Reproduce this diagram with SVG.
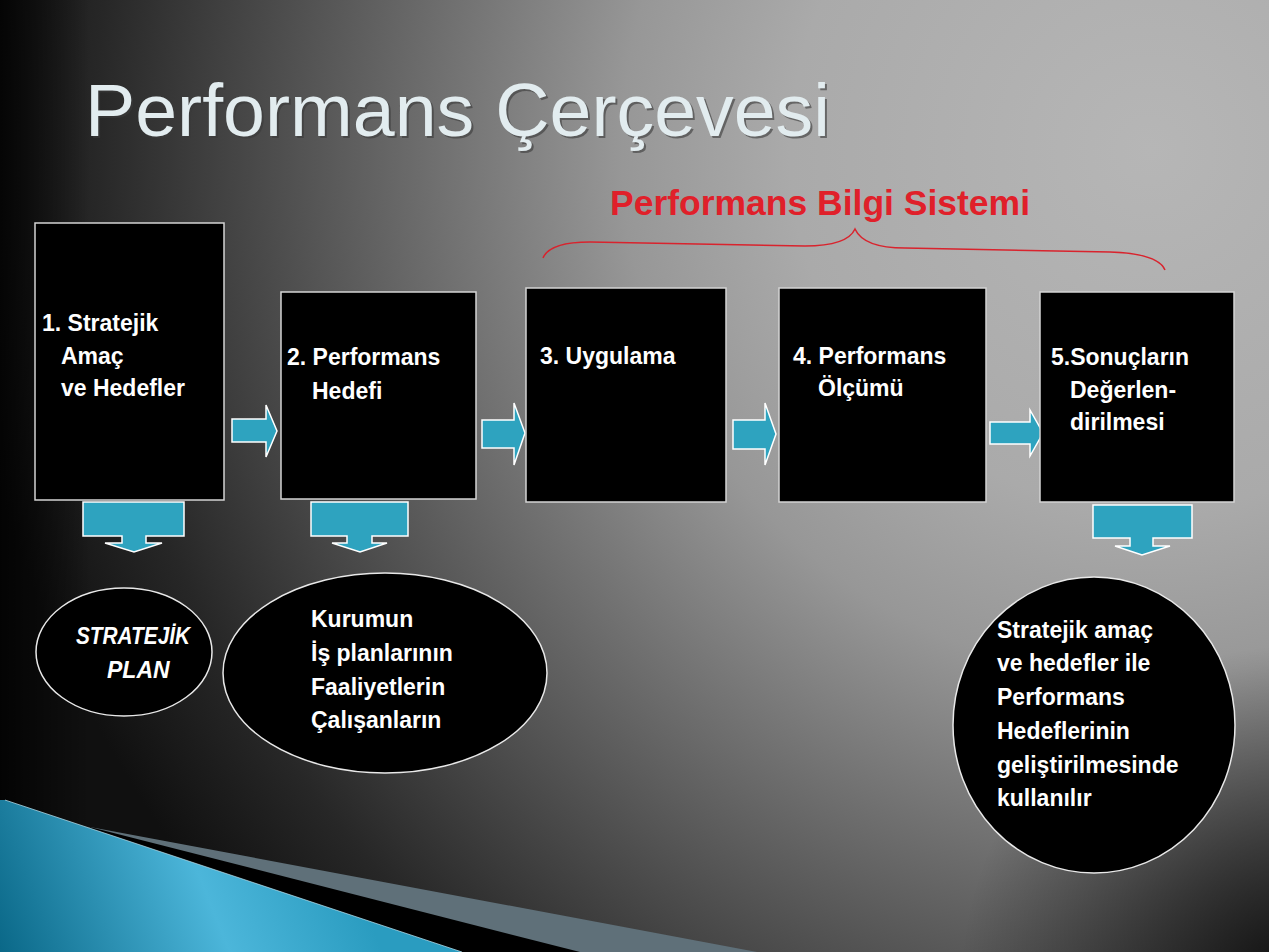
<svg xmlns="http://www.w3.org/2000/svg" width="1269" height="952" viewBox="0 0 1269 952">
<defs>
<radialGradient id="bg" gradientUnits="userSpaceOnUse" cx="1150" cy="150" r="1200">
<stop offset="0" stop-color="#b6b6b6"/>
<stop offset="0.3" stop-color="#aaaaaa"/>
<stop offset="0.44" stop-color="#979797"/>
<stop offset="0.7" stop-color="#555555"/>
<stop offset="0.88" stop-color="#272727"/>
<stop offset="1" stop-color="#101010"/>
</radialGradient>
<linearGradient id="lft" gradientUnits="userSpaceOnUse" x1="0" y1="0" x2="90" y2="0">
<stop offset="0" stop-color="#000" stop-opacity="0.8"/>
<stop offset="1" stop-color="#000" stop-opacity="0"/>
</linearGradient>
<radialGradient id="vig" gradientUnits="userSpaceOnUse" cx="1300" cy="985" r="340">
<stop offset="0" stop-color="#000" stop-opacity="0.85"/>
<stop offset="1" stop-color="#000" stop-opacity="0"/>
</radialGradient>
<linearGradient id="blue" gradientUnits="userSpaceOnUse" x1="0" y1="952" x2="330" y2="820">
<stop offset="0" stop-color="#0a6888"/>
<stop offset="0.6" stop-color="#4cb6da"/>
<stop offset="1" stop-color="#2a9cc0"/>
</linearGradient>
<style>
.box{fill:#000;stroke:#d4d4d4;stroke-width:1.5}
.ell{fill:#000;stroke:#e8e8e8;stroke-width:1.5}
.arr{fill:#2ea3bf;stroke:#ffffff;stroke-width:1.5;stroke-linejoin:miter}
.t{font-family:"Liberation Sans",Arial,sans-serif;font-weight:bold;font-size:23px;fill:#ffffff}
.ti{font-style:italic}
</style>
</defs>
<rect x="0" y="0" width="1269" height="952" fill="url(#bg)"/>
<rect x="0" y="0" width="90" height="952" fill="url(#lft)"/>
<rect x="0" y="0" width="1269" height="952" fill="url(#vig)"/>

<g id="decoration">
<path d="M90,827 L757,952 L0,952 Z" fill="#5f7079"/>
<path d="M90,827 L580,952 L0,952 Z" fill="#000"/>
<path d="M0,800 L5,800 L462,952 L0,952 Z" fill="url(#blue)"/>
<path d="M5,800 L462,952" stroke="#bfe6f2" stroke-width="1" fill="none" opacity="0.7"/>
</g>

<g id="title">
<text x="87" y="138" font-family="'Liberation Sans',Arial,sans-serif" font-size="75" fill="#3a3a3a" opacity="0.6" textLength="745" lengthAdjust="spacingAndGlyphs">Performans Çerçevesi</text>
<text x="85" y="136" font-family="'Liberation Sans',Arial,sans-serif" font-size="75" fill="#e2ecef" textLength="745" lengthAdjust="spacingAndGlyphs">Performans Çerçevesi</text>
</g>

<g id="pbs">
<text x="610" y="215" font-family="'Liberation Sans',Arial,sans-serif" font-weight="bold" font-size="35.5" fill="#e0202a" textLength="420" lengthAdjust="spacingAndGlyphs">Performans Bilgi Sistemi</text>
<path d="M543,258 C548,246 565,242 590,242 L805,246 C835,246 850,240 855,229 C860,240 875,248 905,248 L1110,252 C1140,253 1160,258 1165,270" fill="none" stroke="#d9232d" stroke-width="1.5"/>
</g>

<g id="connectors">
<path class="arr" d="M232,419 L266,419 L266,405 L277,431 L266,457 L266,442 L232,442 Z"/>
<path class="arr" d="M482,420 L514,420 L514,403 L525,433 L514,465 L514,448 L482,448 Z"/>
<path class="arr" d="M733,420 L765,420 L765,403 L776,434 L765,465 L765,449 L733,449 Z"/>
<path class="arr" d="M990,422 L1030,422 L1030,410 L1043,433 L1030,456 L1030,444 L990,444 Z"/>
<path class="arr" d="M83,502 L184,502 L184,536 L146,536 L146,543 L162,543 L134,552 L105,543 L122,543 L122,536 L83,536 Z"/>
<path class="arr" d="M311,502 L408,502 L408,536 L372,536 L372,543 L387,543 L360,552 L332,543 L347,543 L347,536 L311,536 Z"/>
<path class="arr" d="M1093,505 L1192,505 L1192,538 L1153,538 L1153,546 L1170,546 L1142,555 L1115,546 L1130,546 L1130,538 L1093,538 Z"/>
</g>

<g id="box1">
<rect class="box" x="35" y="223" width="189" height="277"/>
<text class="t" x="42" y="331">1. Stratejik</text>
<text class="t" x="61" y="364">Amaç</text>
<text class="t" x="61" y="396">ve Hedefler</text>
</g>
<g id="box2">
<rect class="box" x="281" y="292" width="195" height="207"/>
<text class="t" x="287" y="365">2. Performans</text>
<text class="t" x="312" y="399">Hedefi</text>
</g>
<g id="box3">
<rect class="box" x="526" y="288" width="200" height="214"/>
<text class="t" x="540" y="364">3. Uygulama</text>
</g>
<g id="box4">
<rect class="box" x="779" y="288" width="207" height="214"/>
<text class="t" x="793" y="364">4. Performans</text>
<text class="t" x="818" y="396">Ölçümü</text>
</g>
<g id="box5">
<rect class="box" x="1040" y="292" width="194" height="210"/>
<text class="t" x="1051" y="365">5.Sonuçların</text>
<text class="t" x="1070" y="398">Değerlen-</text>
<text class="t" x="1070" y="430">dirilmesi</text>
</g>

<g id="ellipse1">
<ellipse class="ell" cx="124" cy="652" rx="88" ry="64"/>
<text class="t ti" x="76" y="644" font-size="21" textLength="114" lengthAdjust="spacingAndGlyphs">STRATEJİK</text>
<text class="t ti" x="107" y="678" font-size="21">PLAN</text>
</g>
<g id="ellipse2">
<ellipse class="ell" cx="385" cy="673" rx="162" ry="100"/>
<text class="t" x="311" y="627">Kurumun</text>
<text class="t" x="311" y="661">İş planlarının</text>
<text class="t" x="311" y="695">Faaliyetlerin</text>
<text class="t" x="311" y="728">Çalışanların</text>
</g>
<g id="ellipse3">
<ellipse class="ell" cx="1094" cy="725" rx="141" ry="148"/>
<text class="t" x="997" y="638">Stratejik amaç</text>
<text class="t" x="997" y="671">ve hedefler ile</text>
<text class="t" x="997" y="705">Performans</text>
<text class="t" x="997" y="739">Hedeflerinin</text>
<text class="t" x="997" y="773">geliştirilmesinde</text>
<text class="t" x="997" y="806">kullanılır</text>
</g>
</svg>
